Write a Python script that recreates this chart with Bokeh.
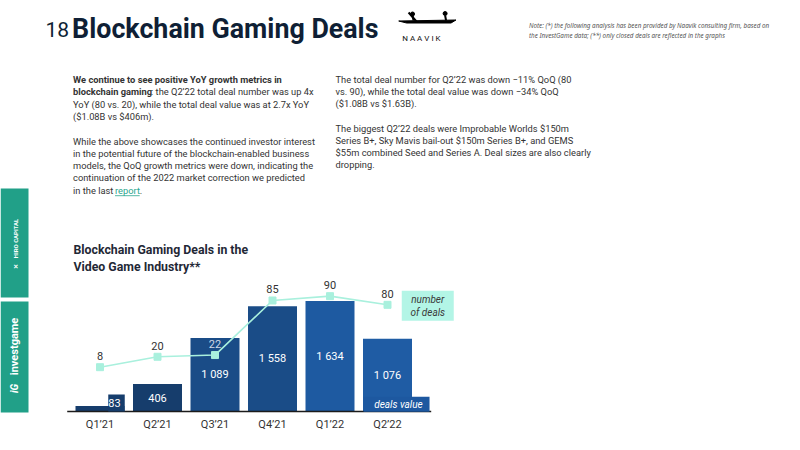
import math
from bokeh.plotting import figure
from bokeh.models import Range1d, FixedTicker, ColumnDataSource
from bokeh.layouts import row, column
from bokeh.core.properties import value
from bokeh.embed import file_html
from bokeh.resources import INLINE

# ---------------- data ----------------
quarters = ["Q1’21", "Q2’21", "Q3’21", "Q4’21", "Q1’22", "Q2’22"]
deal_values = [83, 406, 1089, 1558, 1634, 1076]      # $m
value_labels = ["83", "406", "1 089", "1 558", "1 634", "1 076"]
deal_counts = [8, 20, 22, 85, 90, 80]

left_para = [
    [("We continue to see positive YoY growth metrics in", "bold", None)],
    [("blockchain gaming", "bold", None), (": the Q2’22 total deal number was up 4x", "normal", 152)],
    [("YoY (80 vs. 20), while the total deal value was at 2.7x YoY", "normal", None)],
    [("($1.08B vs $406m).", "normal", None)],
    [],
    [("While the above showcases the continued investor interest", "normal", None)],
    [("in the potential future of the blockchain-enabled business", "normal", None)],
    [("models, the QoQ growth metrics were down, indicating the", "normal", None)],
    [("continuation of the 2022 market correction we predicted", "normal", None)],
    [("in the last ", "normal", None), ("report", "link", 115.5), (".", "normal", 140.5)],
]
right_para = [
    "The total deal number for Q2’22 was down −11% QoQ (80",
    "vs. 90), while the total deal value was down −34% QoQ",
    "($1.08B vs $1.63B).",
    "",
    "The biggest Q2’22 deals were Improbable Worlds $150m",
    "Series B+, Sky Mavis bail-out $150m Series B+, and GEMS",
    "$55m combined Seed and Series A. Deal sizes are also clearly",
    "dropping.",
]
note_lines = [
    "Note: (*) the following analysis has been provided by Naavik consulting firm, based on",
    "the InvestGame data; (**) only closed deals are reflected in the graphs",
]
chart_title = ["Blockchain Gaming Deals in the", "Video Game Industry**"]

FONT = "Roboto"
NOTE_FONT = "Noto Sans"
DARK = "#0f1f35"
BODY = "#333333"
TEAL = "#21a088"
BAR_COLORS = ["#163d6c", "#163d6c", "#1a4c87", "#1a4c87", "#1e5aa1", "#1f5ca4"]
BODY_SIZE = "9.3px"


def clean(p):
    p.axis.visible = False
    p.grid.visible = False
    p.outline_line_color = None
    p.background_fill_color = "white"
    p.border_fill_color = "white"


def txt(p, x, y, s, size, color, style="normal", align="left", angle=0.0, font=FONT, **kw):
    p.text(x=[x], y=[y], text=[s], text_font=value(font), text_font_size=size,
           text_color=color, text_font_style=style, text_align=align,
           text_baseline="middle", angle=angle, **kw)


# ---------------- left sidebar ----------------
lp = figure(width=40, height=450, x_range=Range1d(0, 40), y_range=Range1d(450, 0),
            output_backend="svg", toolbar_location=None, min_border=0)
clean(lp)
lp.quad(left=[0, 0], right=[28, 28], top=[188, 301], bottom=[297, 412],
        fill_color=TEAL, line_color=None)
txt(lp, 14.5, 238, "HIRO CAPITAL", "6px", "white", "bold", "center", math.pi / 2)
txt(lp, 14.5, 266, "✕", "6px", "white", "bold", "center", math.pi / 2)
txt(lp, 14, 346, "investgame", "11px", "white", "bold", "center", math.pi / 2)
txt(lp, 14, 388, "iG", "10px", "white", "bold italic", "center", math.pi / 2)

# ---------------- top text area (page coordinates) ----------------
TOP_H = 235
tp = figure(width=760, height=TOP_H, x_range=Range1d(40, 800), y_range=Range1d(TOP_H, 0),
            output_backend="svg", toolbar_location=None, min_border=0)
clean(tp)
txt(tp, 45, 29, "18", "21px", DARK)
txt(tp, 72, 28, "Blockchain Gaming Deals", "26.8px", DARK, "bold")

# Naavik logo
tp.patch(x=[403, 461, 456, 411], y=[20.5, 19.5, 22.5, 22.5], fill_color="black", line_color="black")
tp.scatter(x=[417, 450], y=[13.5, 13], size=[4, 4], marker="circle", color="black")
tp.segment(x0=[417, 450, 413], y0=[15, 15, 12], x1=[418, 451, 421], y1=[20, 20, 21],
           line_color="black", line_width=2)
txt(tp, 431, 38, "N  A  A  V  I  K", "8px", "#111111", "normal", "center")

# note
for i, s in enumerate(note_lines):
    txt(tp, 535, 25 + i * 9.5, s, "6.3px", "#555555", "italic", font=NOTE_FONT)

# left paragraph
y0, lh = 79, 12.3
for i, parts in enumerate(left_para):
    y = y0 + i * lh
    x = 73
    for s, style, xpos in parts:
        if xpos is not None:
            x = xpos
        if style == "link":
            txt(tp, x, y, s, BODY_SIZE, "#2aa58e")
            tp.segment(x0=[x], y0=[y + 5.5], x1=[x + 25], y1=[y + 5.5], line_color="#2aa58e", line_width=0.8)
        else:
            txt(tp, x, y, s, BODY_SIZE, BODY, style)

# right paragraph
for i, s in enumerate(right_para):
    if s:
        txt(tp, 339, 79 + i * 12.2, s, BODY_SIZE, BODY)

# ---------------- chart ----------------
n = len(quarters)
xs = list(range(n))
PAGE_L, PAGE_R = 40, 460          # frame edges, page x
FRAME_TOP, FRAME_BOT = TOP_H, 413  # frame edges, page y
STEP, X0 = 57.5, 99.5             # px per category, page x of first category
BAR_PX = 0.0676                   # px per $m
BASE = 411.0                      # page y of value zero
LINE_PX, LINE_ZERO = 0.866, 373.6 # px per deal, page y of count zero

x_rng = Range1d((PAGE_L - X0) / STEP, (PAGE_R - X0) / STEP)
y_rng = Range1d((BASE - FRAME_BOT) / BAR_PX, (BASE - FRAME_TOP) / BAR_PX)
cnt_rng = Range1d((LINE_ZERO - FRAME_BOT) / LINE_PX, (LINE_ZERO - FRAME_TOP) / LINE_PX)

cp = figure(width=430, height=450 - TOP_H, x_range=x_rng, y_range=y_rng,
            output_backend="svg", toolbar_location=None,
            min_border_left=0, min_border_right=10, min_border_top=0,
            min_border_bottom=450 - FRAME_BOT)
cp.extra_y_ranges = {"deals": cnt_rng, "py": Range1d(FRAME_BOT, FRAME_TOP)}
cp.extra_x_ranges = {"px": Range1d(PAGE_L, PAGE_R)}
cp.yaxis.visible = False
cp.grid.visible = False
cp.outline_line_color = None
cp.background_fill_color = "white"
cp.border_fill_color = "white"

cp.xaxis.ticker = FixedTicker(ticks=xs)
cp.xaxis.major_label_overrides = {i: q for i, q in enumerate(quarters)}
cp.xaxis.axis_line_color = None
cp.xaxis.major_tick_line_color = None
cp.xaxis.minor_tick_line_color = None
cp.xaxis.major_tick_out = 0
cp.xaxis.major_tick_in = 0
cp.xaxis.major_label_standoff = 4
cp.xaxis.major_label_text_font = FONT
cp.xaxis.major_label_text_font_size = "11px"
cp.xaxis.major_label_text_color = BODY

# chart title
for i, s in enumerate(chart_title):
    txt(cp, 73, 249 + i * 17, s, "12.3px", "#1f2836", "bold",
        x_range_name="px", y_range_name="py")

bar_src = ColumnDataSource(dict(x=xs, top=deal_values, color=BAR_COLORS, label=value_labels))
cp.vbar(x="x", top="top", bottom=0, width=49 / STEP, fill_color="color", line_color=None, source=bar_src)

# baseline
cp.segment(x0=[-0.57], y0=[0], x1=[5.76], y1=[0], line_color="#1b1b1b", line_width=1.5)

# value labels
big = [i for i in xs if deal_values[i] >= 200]
small = [i for i in xs if deal_values[i] < 200]
cp.text(x=[xs[i] for i in big], y=[deal_values[i] / 2 for i in big], text=[value_labels[i] for i in big],
        text_font=value(FONT), text_font_size="11px", text_color="white",
        text_align="center", text_baseline="middle")
for i in small:
    cp.rect(x=[i + 0.287], y=[125], width=[16.5], height=[17], width_units="screen", height_units="screen",
            fill_color=BAR_COLORS[i], line_color=None)
    cp.text(x=[i + 0.25], y=[125], text=[value_labels[i]], text_font=value(FONT),
            text_font_size="11px", text_color="white", text_align="center", text_baseline="middle")

# deal count line
cp.line(x=xs, y=deal_counts, y_range_name="deals", line_color="#a9f0dd", line_width=1.6)
cp.scatter(x=xs, y=deal_counts, y_range_name="deals", marker="square", size=7,
           fill_color="#a9f0dd", line_color="#a9f0dd")

# count label colours: light when sitting on a bar
lab_colors = []
for v, c in zip(deal_values, deal_counts):
    lab_y = LINE_ZERO - c * LINE_PX - 11
    top_y = BASE - v * BAR_PX
    lab_colors.append("#cfd8e6" if lab_y > top_y + 3 else BODY)
cp.text(x=xs, y=deal_counts, y_range_name="deals", y_offset=-11, text=[str(c) for c in deal_counts],
        text_font=value(FONT), text_font_size="11px", text_color=lab_colors,
        text_align="center", text_baseline="middle")

# legend boxes
cp.rect(x=[xs[-1] + 0.7], y=[deal_counts[-1] - 1], y_range_name="deals", width=[52], height=[30],
        width_units="screen", height_units="screen", fill_color="#b3f5e6", line_color=None)
cp.text(x=[xs[-1] + 0.7] * 2, y=[deal_counts[-1] - 1] * 2, y_range_name="deals", y_offset=[-6, 7],
        text=["number", "of deals"], text_font=value(FONT), text_font_size="10px",
        text_font_style="italic", text_color="#3a3a3a", text_align="center", text_baseline="middle")
cp.rect(x=[xs[-1] + 0.157], y=[109], width=[66], height=[15],
        width_units="screen", height_units="screen", fill_color="#1d58a0", line_color=None)
cp.text(x=[xs[-1] + 0.19], y=[109], text=["deals value"], text_font=value(FONT),
        text_font_size="10px", text_font_style="italic", text_color="white",
        text_align="center", text_baseline="middle")

layout = row(lp, column(tp, cp))
open("out.html", "w").write(file_html(layout, INLINE))
